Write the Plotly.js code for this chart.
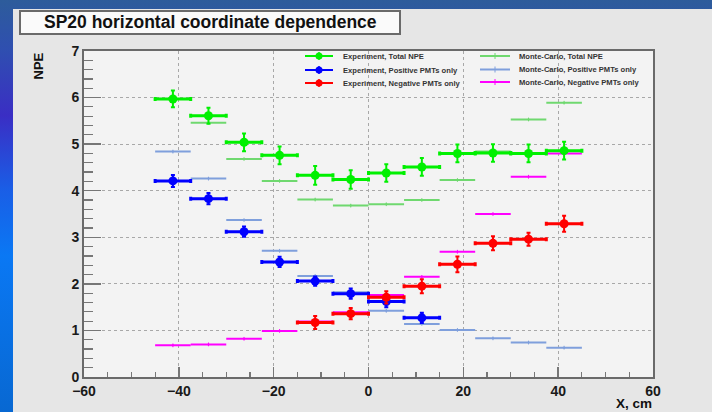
<!DOCTYPE html>
<html><head><meta charset="utf-8">
<script src="https://cdn.plot.ly/plotly-3.0.1.min.js"></script>
<style>
html,body{margin:0;padding:0;width:712px;height:412px;overflow:hidden;}
body{background:linear-gradient(180deg,#2d5c9b 0%,#2f4fb0 12%,#3a2ec4 28%,#1a5ee6 46%,#0a78f4 62%,#0868d2 100%);}
#chart{position:absolute;left:13px;top:9px;width:699px;height:403px;}
</style></head><body><div id="chart"></div>
<script>
// ---- data ----
const binCenters = [-41.25, -33.75, -26.25, -18.75, -11.25, -3.75, 3.75, 11.25, 18.75, 26.25, 33.75, 41.25];
const binHalfWidth = 3.75;

const expTotal    = [5.97, 5.61, 5.04, 4.76, 4.33, 4.24, 4.38, 4.51, 4.80, 4.81, 4.80, 4.86];
const expTotalErr = [0.18, 0.17, 0.19, 0.19, 0.20, 0.20, 0.19, 0.19, 0.19, 0.19, 0.19, 0.19];

const expPosX   = [-41.25, -33.75, -26.25, -18.75, -11.25, -3.75, 3.75, 11.25];
const expPos    = [4.21, 3.83, 3.12, 2.47, 2.06, 1.79, 1.62, 1.27];
const expPosErr = [0.13, 0.12, 0.11, 0.11, 0.10, 0.11, 0.12, 0.11];

const expNegX   = [-11.25, -3.75, 3.75, 11.25, 18.75, 26.25, 33.75, 41.25];
const expNeg    = [1.17, 1.36, 1.71, 1.95, 2.42, 2.87, 2.96, 3.29];
const expNegErr = [0.14, 0.12, 0.13, 0.15, 0.17, 0.15, 0.14, 0.17];

const mcTotal = [5.97, 5.46, 4.68, 4.21, 3.81, 3.68, 3.71, 3.80, 4.23, 4.84, 5.53, 5.89];
const mcPos   = [4.84, 4.26, 3.37, 2.71, 2.17, 1.82, 1.42, 1.14, 1.01, 0.83, 0.74, 0.63];
const mcNeg   = [0.68, 0.70, 0.82, 0.99, 1.19, 1.39, 1.76, 2.15, 2.69, 3.50, 4.30, 4.80];
const mcErr   = [0.04, 0.04, 0.04, 0.04, 0.04, 0.04, 0.04, 0.04, 0.04, 0.04, 0.04, 0.04];

const legendLabels = {
  expTotal: "Experiment, Total NPE",
  expPos: "Experiment, Positive PMTs only",
  expNeg: "Experiment, Negative PMTs only",
  mcTotal: "Monte-Carlo, Total NPE",
  mcPos: "Monte-Carlo, Positive PMTs only",
  mcNeg: "Monte-Carlo, Negative PMTs only"
};
const titleText = "SP20 horizontal coordinate dependence";

// ---- styles ----
const C = {
  expTotal: "#00f000", expPos: "#0000ff", expNeg: "#ff0000",
  mcTotal: "#6fd86f", mcPos: "#7f9fdc", mcNeg: "#ff00ff"
};
const FONT = "Liberation Sans, Arial, Helvetica, sans-serif";

function mcTrace(y, color, name) {
  return {
    type: "scatter", mode: "markers", name: name, x: binCenters, y: y,
    marker: {size: 2, color: color},
    error_x: {type: "constant", value: binHalfWidth, color: color, thickness: 2, width: 0},
    error_y: {type: "data", array: mcErr, color: color, thickness: 1, width: 0},
    showlegend: false, hoverinfo: "x+y"
  };
}
function expTrace(x, y, err, color, name) {
  return {
    type: "scatter", mode: "markers", name: name, x: x, y: y,
    marker: {size: 9, color: color, symbol: "circle"},
    error_x: {type: "constant", value: binHalfWidth, color: color, thickness: 3, width: 2},
    error_y: {type: "data", array: err, color: color, thickness: 2, width: 2},
    showlegend: false, hoverinfo: "x+y"
  };
}

const data = [
  mcTrace(mcTotal, C.mcTotal, legendLabels.mcTotal),
  mcTrace(mcPos, C.mcPos, legendLabels.mcPos),
  mcTrace(mcNeg, C.mcNeg, legendLabels.mcNeg),
  expTrace(binCenters, expTotal, expTotalErr, C.expTotal, legendLabels.expTotal),
  expTrace(expPosX, expPos, expPosErr, C.expPos, legendLabels.expPos),
  expTrace(expNegX, expNeg, expNegErr, C.expNeg, legendLabels.expNeg)
];

// pixel (full image) -> paper helpers
const PL = 84, PR = 653, PT = 51, PB = 377;
const px = X => (X - PL) / (PR - PL);
const py = Y => (PB - Y) / (PB - PT);

const shapes = [];
const annotations = [];

// title box
shapes.push({type: "rect", xref: "paper", yref: "paper", x0: px(20), x1: px(400), y0: py(34), y1: py(11),
  fillcolor: "#fafafa", line: {color: "#6a6a6a", width: 2}, layer: "above"});
annotations.push({xref: "paper", yref: "paper", x: px(210), y: py(22.5), xanchor: "center", yanchor: "middle",
  text: titleText, showarrow: false, font: {family: FONT, size: 17.5, weight: 700, color: "#111"}});

// legend (manual, two columns)
const legRowsY = [56, 70, 83];
const expKeys = ["expTotal", "expPos", "expNeg"];
const mcKeys = ["mcTotal", "mcPos", "mcNeg"];
expKeys.forEach((k, i) => {
  const Y = legRowsY[i];
  shapes.push({type: "line", xref: "paper", yref: "paper", x0: px(305), x1: px(333), y0: py(Y), y1: py(Y),
    line: {color: C[k], width: 2}});
  shapes.push({type: "line", xref: "paper", yref: "paper", x0: px(319), x1: px(319), y0: py(Y - 4), y1: py(Y + 4),
    line: {color: C[k], width: 1.5}});
  shapes.push({type: "circle", xref: "paper", yref: "paper", xsizemode: "pixel", ysizemode: "pixel",
    xanchor: px(319), yanchor: py(Y), x0: -3.5, x1: 3.5, y0: -3.5, y1: 3.5,
    fillcolor: C[k], line: {color: C[k], width: 0}});
  annotations.push({xref: "paper", yref: "paper", x: px(341), y: py(Y), xanchor: "left", yanchor: "middle",
    text: legendLabels[k], showarrow: false, font: {family: FONT, size: 7.6, weight: 700, color: "#333"}});
});
mcKeys.forEach((k, i) => {
  const Y = legRowsY[i] - (i === 0 ? 0 : i * 0.5);
  shapes.push({type: "line", xref: "paper", yref: "paper", x0: px(480), x1: px(510), y0: py(Y), y1: py(Y),
    line: {color: C[k], width: 2}});
  shapes.push({type: "line", xref: "paper", yref: "paper", x0: px(495), x1: px(495), y0: py(Y - 3), y1: py(Y + 3),
    line: {color: C[k], width: 1}});
  annotations.push({xref: "paper", yref: "paper", x: px(517), y: py(Y), xanchor: "left", yanchor: "middle",
    text: legendLabels[k], showarrow: false, font: {family: FONT, size: 7.6, weight: 700, color: "#333"}});
});

// axis titles
annotations.push({xref: "paper", yref: "paper", x: px(38), y: py(51), xanchor: "center", yanchor: "top",
  text: "NPE", textangle: -90, showarrow: false, font: {family: FONT, size: 13, weight: 700, color: "#111"}});
annotations.push({xref: "paper", yref: "paper", x: px(654), y: py(403), xanchor: "right", yanchor: "middle",
  text: "X, cm", showarrow: false, font: {family: FONT, size: 13.5, weight: 700, color: "#111"}});

const tickFont = {family: FONT, size: 14, weight: 700, color: "#1a1a1a"};
const layout = {
  width: 699, height: 403,
  margin: {l: 71, r: 59, t: 42, b: 35, pad: 0},
  paper_bgcolor: "#e6e6e6", plot_bgcolor: "#f3f3f3",
  showlegend: false,
  xaxis: {
    range: [-60, 60], tick0: 0, dtick: 20, ticks: "inside", ticklen: 10, tickwidth: 1.5, tickcolor: "#777",
    showline: true, linecolor: "#6a6a6a", linewidth: 2, mirror: true,
    showgrid: true, gridcolor: "#a8a8a8", griddash: "dot", gridwidth: 1, zeroline: false,
    tickfont: tickFont,
    minor: {dtick: 5, ticks: "inside", ticklen: 5, tickwidth: 1.2, tickcolor: "#777", showgrid: false}
  },
  yaxis: {
    range: [0, 7], tick0: 0, dtick: 1, ticks: "inside", ticklen: 17, tickwidth: 1.5, tickcolor: "#777",
    showline: true, linecolor: "#6a6a6a", linewidth: 2, mirror: true,
    showgrid: true, gridcolor: "#a8a8a8", griddash: "dot", gridwidth: 1, zeroline: false,
    tickfont: tickFont,
    minor: {dtick: 0.2, ticks: "inside", ticklen: 9, tickwidth: 1.2, tickcolor: "#777", showgrid: false}
  },
  shapes: shapes,
  annotations: annotations
};

Plotly.newPlot("chart", data, layout, {displayModeBar: false, staticPlot: true});
</script></body></html>
